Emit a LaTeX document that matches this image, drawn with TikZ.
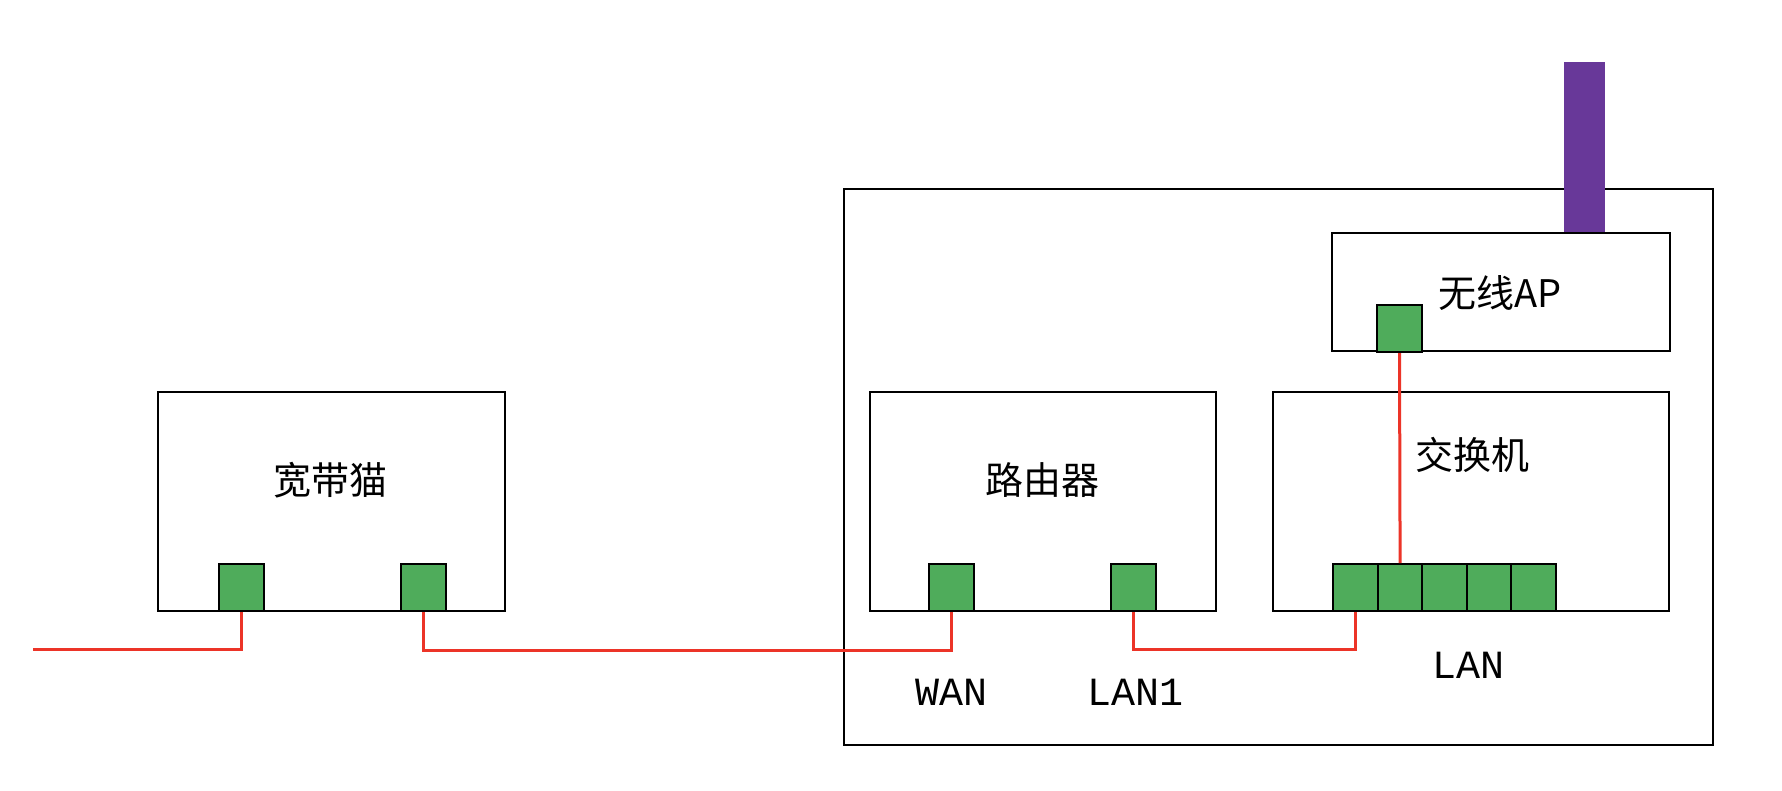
\documentclass[tikz,border=0pt]{standalone}
\usepackage{fontspec}
\newfontfamily\cjk{Noto Sans CJK SC}
\newfontfamily\monofnt{Liberation Mono}
\definecolor{portgreen}{RGB}{79,172,91}
\definecolor{cablered}{RGB}{236,52,40}
\definecolor{antpurple}{RGB}{104,56,153}
\begin{document}
\begin{tikzpicture}[x=1pt,y=-1pt,
  box/.style={draw=black,line width=2pt,fill=white,rectangle,inner sep=0pt,anchor=north west},
  port/.style={draw=black,line width=2pt,fill=portgreen,rectangle,inner sep=0pt,anchor=north west,minimum width=45pt,minimum height=47pt},
  cable/.style={draw=cablered,line width=3pt},
  lbl/.style={font=\cjk\fontsize{38}{40}\selectfont,inner sep=0pt},
  plbl/.style={font=\monofnt\fontsize{40}{42}\selectfont,inner sep=0pt}]
\useasboundingbox (0,0) rectangle (1782,790);
\fill[white] (0,0) rectangle (1782,790);
% outer device
\node[box,minimum width=869pt,minimum height=556pt] (outer) at (843,188) {};
% antenna
\node[fill=antpurple,rectangle,inner sep=0pt,anchor=north west,minimum width=41pt,minimum height=170pt] (ant) at (1564,62) {};
% boxes
\node[box,minimum width=347pt,minimum height=219pt] (modem) at (157,391) {};
\node[box,minimum width=346pt,minimum height=219pt] (router) at (869,391) {};
\node[box,minimum width=396pt,minimum height=219pt] (switch) at (1272,391) {};
\node[box,minimum width=338pt,minimum height=118pt] (ap) at (1331,232) {};
% labels
\node[lbl] (tmodem) at (330,480) {宽带猫};
\node[lbl] (trouter) at (1042,480) {路由器};
\node[lbl] (tswitch) at (1472,455) {交换机};
\node[lbl] (tap) at (1500,293) {无线AP};
% ports
\node[port] (m1) at (218,563) {};
\node[port] (m2) at (400,563) {};
\node[port] (wan) at (928,563) {};
\node[port] (lan1) at (1110,563) {};
\foreach \i in {1,...,5}{
  \node[port] (s\i) at ({1332+(\i-1)*44.6},563) {};
}
\node[port] (app) at (1376,304) {};
% port labels
\node[plbl] (twan) at (951,692) {WAN};
\node[plbl] (tlan1) at (1135,692) {LAN1};
\node[plbl] (tlan) at (1468,665) {LAN};
% cables
\coordinate (in) at (33,649);
\draw[cable] (in) -| (m1.south);
\draw[cable] (m2.south) -- ++(0,38) -| (wan.south);
\draw[cable] (lan1.south) -- ++(0,37) -| (s1.south);
\draw[cable] (app.south) -- (s2.north);
\end{tikzpicture}
\end{document}
